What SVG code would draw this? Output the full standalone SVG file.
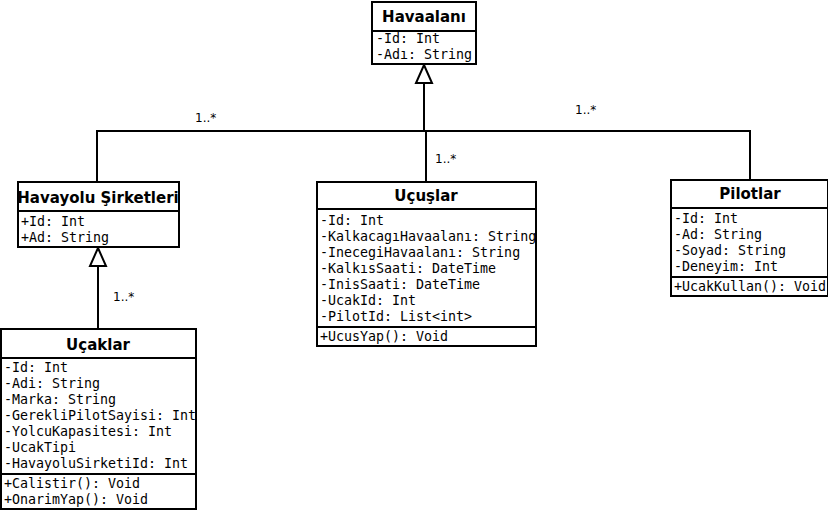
<svg xmlns="http://www.w3.org/2000/svg" width="828" height="510" viewBox="0 0 828 510">
  <style>
    .box { fill: #ffffff; stroke: #000000; stroke-width: 2; }
    .sep { stroke: #000000; stroke-width: 2; }
    .title { font-family: "DejaVu Sans", sans-serif; font-size: 15px; font-weight: bold; text-anchor: middle; fill: #000; }
    .attr { font-family: "DejaVu Sans Mono", monospace; font-size: 13.3px; fill: #000; }
    .line { fill: none; stroke: #000000; stroke-width: 2; }
    .arrow { fill: #ffffff; stroke: #000000; stroke-width: 2; }
    .mult { font-family: "DejaVu Sans", sans-serif; font-size: 12px; fill: #000; }
  </style>
  <rect width="828" height="510" fill="#ffffff"/>

  <g id="connectors">
    <polyline class="line" points="97,182 97,131 750,131 750,180"/>
    <line class="line" x1="426" y1="131" x2="426" y2="182"/>
    <line class="line" x1="424" y1="131" x2="424" y2="83"/>
    <path class="arrow" d="M424,65 L432,83 L416,83 Z"/>
    <line class="line" x1="98" y1="329" x2="98" y2="266"/>
    <path class="arrow" d="M98,248 L106,266 L90,266 Z"/>
    <text class="mult" x="195" y="122">1..*</text>
    <text class="mult" x="435" y="163">1..*</text>
    <text class="mult" x="575" y="114">1..*</text>
    <text class="mult" x="113" y="301">1..*</text>
  </g>

  <g id="havaalani">
    <rect class="box" x="372" y="2" width="104" height="62"/>
    <line class="sep" x1="372" y1="31" x2="476" y2="31"/>
    <text class="title" x="424" y="22">Havaalanı</text>
    <text class="attr" x="376" y="43">-Id: Int</text>
    <text class="attr" x="376" y="59">-Adı: String</text>
  </g>

  <g id="havayolu">
    <rect class="box" x="18" y="182" width="161" height="65"/>
    <line class="sep" x1="18" y1="211" x2="179" y2="211"/>
    <text class="title" x="98" y="203">Havayolu Şirketleri</text>
    <text class="attr" x="21" y="226">+Id: Int</text>
    <text class="attr" x="21" y="242">+Ad: String</text>
  </g>

  <g id="ucuslar">
    <rect class="box" x="317" y="182" width="219" height="164"/>
    <line class="sep" x1="317" y1="209" x2="536" y2="209"/>
    <line class="sep" x1="317" y1="327" x2="536" y2="327"/>
    <text class="title" x="426" y="201">Uçuşlar</text>
    <text class="attr" x="320" y="225">-Id: Int</text>
    <text class="attr" x="320" y="241">-KalkacagıHavaalanı: String</text>
    <text class="attr" x="320" y="257">-InecegiHavaalanı: String</text>
    <text class="attr" x="320" y="273">-KalkısSaati: DateTime</text>
    <text class="attr" x="320" y="289">-InisSaati: DateTime</text>
    <text class="attr" x="320" y="305">-UcakId: Int</text>
    <text class="attr" x="320" y="321">-PilotId: List&lt;int&gt;</text>
    <text class="attr" x="320" y="341">+UcusYap(): Void</text>
  </g>

  <g id="pilotlar">
    <rect class="box" x="671" y="180" width="157" height="116"/>
    <line class="sep" x1="671" y1="208" x2="828" y2="208"/>
    <line class="sep" x1="671" y1="277" x2="828" y2="277"/>
    <text class="title" x="750" y="199">Pilotlar</text>
    <text class="attr" x="674" y="223">-Id: Int</text>
    <text class="attr" x="674" y="239">-Ad: String</text>
    <text class="attr" x="674" y="255">-Soyad: String</text>
    <text class="attr" x="674" y="271">-Deneyim: Int</text>
    <text class="attr" x="674" y="291">+UcakKullan(): Void</text>
  </g>

  <g id="ucaklar">
    <rect class="box" x="1" y="329" width="195" height="180"/>
    <line class="sep" x1="1" y1="358" x2="196" y2="358"/>
    <line class="sep" x1="1" y1="474" x2="196" y2="474"/>
    <text class="title" x="98" y="350">Uçaklar</text>
    <text class="attr" x="4" y="372">-Id: Int</text>
    <text class="attr" x="4" y="388">-Adi: String</text>
    <text class="attr" x="4" y="404">-Marka: String</text>
    <text class="attr" x="4" y="420">-GerekliPilotSayisi: Int</text>
    <text class="attr" x="4" y="436">-YolcuKapasitesi: Int</text>
    <text class="attr" x="4" y="452">-UcakTipi</text>
    <text class="attr" x="4" y="468">-HavayoluSirketiId: Int</text>
    <text class="attr" x="4" y="488">+Calistir(): Void</text>
    <text class="attr" x="4" y="504">+OnarimYap(): Void</text>
  </g>
</svg>
